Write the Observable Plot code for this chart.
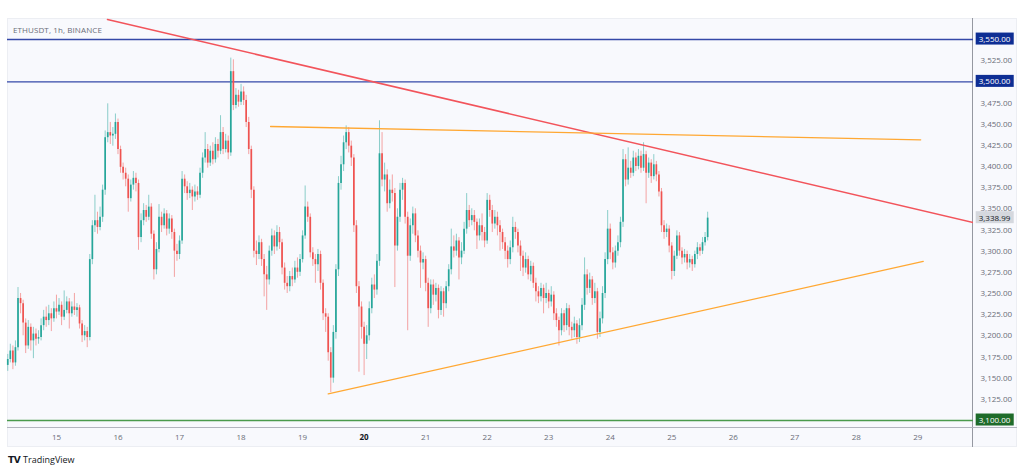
<!DOCTYPE html>
<html><head><meta charset="utf-8">
<script src="https://cdn.jsdelivr.net/npm/d3@7"></script>
<script src="https://cdn.jsdelivr.net/npm/@observablehq/plot@0.6"></script>
<style>
html,body{margin:0;padding:0;background:#fff;width:1024px;height:472px;overflow:hidden;font-family:"Open Sans",sans-serif;}
#wrap{position:relative;width:1024px;height:472px;}
#panel{position:absolute;left:7px;top:18px;width:1010px;height:429px;background:#f8f9fd;box-sizing:border-box;border:1px solid #eceef3;}
#vsep{position:absolute;left:972px;top:18px;width:1px;height:429px;background:#9598a1;}
#hsep{position:absolute;left:7px;top:427px;width:1010px;height:1px;background:#b2b5be;}
#title{position:absolute;left:13px;top:24px;font-size:8px;line-height:12px;color:#6a6d78;letter-spacing:0.1px;}
#logo{position:absolute;left:8px;top:454px;font-size:9px;line-height:12px;color:#131722;}
#logo b{font-family:"DejaVu Sans",sans-serif;font-weight:900;letter-spacing:-0.5px;margin-right:3px;}
#chart{position:absolute;left:0;top:0;}
</style></head>
<body>
<div id="wrap">
  <div id="panel"></div>
  <div id="vsep"></div>
  <div id="hsep"></div>
  <div id="chart"></div>
  <div id="title">ETHUSDT, 1h, BINANCE</div>
  <div id="logo"><b>TV</b>TradingView</div>
</div>
<script>
// ---- data (ETHUSDT, 1h candles, first candle 14 Jan 05:00 UTC) ----
const firstCandleUTC = Date.UTC(2025, 0, 14, 5);
const firstOpen = 3165;
const closes = [
3172,3182,3168,3186,3244,3238,3215,3188,3210,3194,
3202,3196,3198,3212,3222,3218,3226,3220,3232,
3228,3236,3222,3230,3240,3226,3234,3230,3233,3214,
3200,3205,3198,3290,3330,3336,3328,3340,3372,3434,
3440,3436,3438,3452,3420,3399,3392,3385,3362,3378,
3386,3380,3316,3336,3348,3340,3352,3320,3278,3302,
3340,3330,3344,3326,3338,3322,3300,3296,3312,3385,
3376,3368,3372,3364,3370,3366,3392,3410,3420,3404,
3418,3408,3426,3418,3440,3420,3430,3416,3512,3472,
3484,3476,3488,3478,3452,3420,3372,3300,3296,3310,
3290,3272,3266,3300,3318,3305,3322,3310,3280,3262,
3258,3270,3266,3280,3275,3290,3318,3352,3340,3298,
3290,3284,3296,3262,3226,3222,3180,3150,3204,3278,
3380,3402,3428,3440,3424,3410,3330,3258,3234,3210,
3190,3200,3232,3260,3254,3288,3415,3384,3390,3356,
3372,3368,3306,3340,3372,3380,3340,3294,3330,3344,
3318,3300,3286,3290,3262,3232,3260,3248,3256,3230,
3252,3238,3258,3278,3305,3300,3312,3292,3300,3326,
3348,3336,3342,3334,3318,3330,3322,3312,3360,3348,
3332,3340,3330,3322,3310,3300,3290,3304,3328,3322,
3306,3294,3280,3290,3272,3282,3262,3252,3246,3256,
3244,3250,3240,3248,3226,3218,3206,3226,3212,3232,
3210,3206,3214,3198,3212,3236,3272,3256,3266,3244,
3252,3204,3220,3250,3290,3326,3298,3286,3300,3310,
3334,3408,3384,3398,3392,3410,3400,3412,3398,3414,
3392,3404,3388,3402,3390,3370,3330,3322,3326,3306,
3276,3294,3318,3300,3292,3296,3286,3290,3284,3296,
3304,3300,3310,3316,3338.99];
const highs = [
3178,3190,3188,3194,3257,3250,3242,3220,3218,3214,
3210,3208,3206,3220,3230,3234,3236,3232,3240,
3248,3244,3240,3253,3246,3244,3240,3250,3238,3236,
3218,3212,3210,3296,3336,3366,3346,3352,3378,3442,
3474,3452,3446,3462,3456,3424,3404,3398,3390,3384,
3394,3392,3384,3344,3356,3354,3366,3356,3324,3310,
3355,3346,3350,3348,3344,3342,3326,3308,3318,3394,
3390,3382,3380,3376,3378,3376,3398,3416,3440,3426,
3424,3428,3434,3432,3460,3446,3438,3436,3528,3526,
3492,3490,3497,3494,3484,3458,3424,3376,3312,3318,
3314,3296,3282,3306,3326,3324,3330,3328,3314,3286,
3270,3276,3280,3288,3292,3296,3324,3377,3358,3344,
3304,3296,3302,3300,3266,3232,3226,3186,3212,3284,
3388,3412,3436,3448,3446,3430,3414,3336,3264,3240,
3216,3212,3240,3268,3272,3296,3454,3440,3404,3396,
3384,3390,3374,3350,3380,3386,3384,3346,3338,3352,
3350,3324,3306,3298,3294,3268,3266,3266,3262,3260,
3258,3256,3264,3284,3326,3318,3320,3316,3310,3334,
3368,3354,3350,3348,3338,3338,3344,3328,3368,3366,
3354,3348,3346,3336,3326,3316,3306,3312,3340,3334,
3326,3312,3300,3298,3294,3288,3286,3268,3258,3262,
3260,3262,3254,3258,3252,3232,3222,3232,3230,3238,
3236,3216,3222,3218,3220,3244,3292,3278,3274,3270,
3262,3256,3228,3258,3298,3348,3332,3304,3306,3318,
3340,3420,3414,3422,3406,3418,3416,3420,3418,3428,
3418,3410,3408,3414,3406,3394,3374,3336,3332,3330,
3310,3300,3324,3322,3304,3302,3300,3296,3294,3300,
3310,3308,3316,3322,3346];
const lows = [
3158,3168,3160,3164,3182,3226,3200,3179,3184,3182,
3173,3188,3190,3194,3206,3210,3212,3205,3216,
3220,3224,3212,3218,3226,3208,3222,3224,3222,3208,
3192,3194,3186,3194,3284,3322,3320,3324,3334,3366,
3428,3426,3424,3432,3414,3392,3384,3376,3346,3358,
3372,3370,3301,3310,3330,3334,3336,3314,3266,3272,
3298,3322,3326,3318,3320,3314,3269,3288,3290,3308,
3368,3360,3362,3348,3358,3360,3362,3386,3404,3398,
3400,3402,3404,3410,3414,3414,3416,3408,3412,3466,
3468,3470,3472,3472,3446,3414,3362,3292,3283,3290,
3282,3246,3230,3260,3294,3296,3300,3302,3272,3254,
3250,3252,3258,3262,3268,3270,3286,3314,3334,3292,
3282,3262,3276,3254,3218,3204,3170,3133,3144,3196,
3270,3372,3394,3420,3416,3400,3322,3250,3157,3196,
3153,3172,3194,3226,3244,3248,3282,3376,3370,3346,
3350,3358,3257,3300,3334,3360,3332,3206,3288,3320,
3310,3292,3256,3278,3252,3210,3226,3236,3240,3220,
3224,3222,3232,3252,3272,3292,3294,3266,3284,3296,
3320,3328,3330,3324,3302,3312,3312,3304,3308,3340,
3322,3326,3318,3300,3302,3290,3280,3284,3298,3314,
3298,3276,3270,3274,3266,3264,3256,3240,3238,3240,
3226,3238,3232,3234,3218,3210,3188,3200,3204,3206,
3200,3196,3198,3190,3192,3206,3230,3248,3250,3236,
3238,3196,3198,3214,3244,3284,3290,3278,3280,3294,
3304,3328,3376,3378,3386,3388,3394,3396,3392,3394,
3356,3386,3380,3384,3382,3364,3322,3314,3316,3298,
3266,3270,3290,3294,3284,3286,3278,3280,3276,3280,
3290,3294,3296,3306,3312];

// day labels on the time axis (January 2025)
const dayLabels = [15,16,17,18,19,20,21,22,23,24,25,26,27,28,29];
const boldDay = 20;
// price axis ticks
const priceTicks = [3125,3150,3175,3200,3225,3250,3275,3300,3325,3350,3375,3400,3425,3450,3475,3525];
// horizontal levels
const blueLevels = [3550, 3500];
const greenLevels = [3100];
const lastPrice = 3338.99;
// trend lines: [hours after 15 Jan 00:00, price]
const redLine = [[19.9, 3573.6], [357.7, 3333.8]];
const upperOrange = [[83.5, 3447.2], [337.1, 3431.5]];
const lowerOrange = [[106.0, 3131.5], [338.1, 3287.8]];
// visible window
const xHours = [-19.1, 357.7];
const yRange = [3090.5, 3574.8];

// ---- build ----
const H = 3600e3;
const day0 = Date.UTC(2025, 0, 15);
const toDate = h => new Date(day0 + h * H);
const candles = closes.map((c, i) => ({
  date: new Date(firstCandleUTC + i * H),
  open: i === 0 ? firstOpen : closes[i - 1],
  close: c, high: highs[i], low: lows[i]
}));
const up = candles.filter(d => d.close >= d.open);
const down = candles.filter(d => d.close < d.open);
const pts = arr => arr.map(([h, p]) => ({date: toDate(h), price: p}));
const dayDates = dayLabels.map(d => new Date(Date.UTC(2025, 0, d)));
const fmt = d3.format(",.2f");

const UP = "#26a69a", DOWN = "#ef5350";
const axisFont = {fontSize: 8, color: "#6a6d78"};

const boxes = [
  {v: blueLevels[0], bg: "#0e2e94", fg: "#ffffff"},
  {v: blueLevels[1], bg: "#0e2e94", fg: "#ffffff"},
  {v: greenLevels[0], bg: "#1e6b2a", fg: "#ffffff"},
  {v: lastPrice, bg: "#d5d8de", fg: "#131722"}
];

const chart = Plot.plot({
  width: 1024, height: 472,
  marginLeft: 7, marginRight: 51, marginTop: 18, marginBottom: 44,
  style: {background: "transparent", fontFamily: "'Open Sans', sans-serif", overflow: "visible"},
  x: {type: "utc", domain: xHours.map(toDate)},
  y: {domain: yRange},
  marks: [
    Plot.ruleY(blueLevels, {y: d => d, stroke: "#3448a8", strokeWidth: 1.3}),
    Plot.ruleY(greenLevels, {y: d => d, stroke: "#4a9a4c", strokeWidth: 1.6}),
    Plot.ruleX(up, {x: "date", y1: "low", y2: "high", stroke: UP, strokeWidth: 0.8, strokeOpacity: 0.65}),
    Plot.ruleX(down, {x: "date", y1: "low", y2: "high", stroke: DOWN, strokeWidth: 0.8, strokeOpacity: 0.65}),
    Plot.ruleX(up, {x: "date", y1: "open", y2: "close", stroke: UP, strokeWidth: 1.7}),
    Plot.ruleX(down, {x: "date", y1: "open", y2: "close", stroke: DOWN, strokeWidth: 1.7}),
    Plot.line(pts(redLine), {x: "date", y: "price", stroke: "#f2545b", strokeWidth: 1.5, clip: true}),
    Plot.line(pts(upperOrange), {x: "date", y: "price", stroke: "#ffa833", strokeWidth: 1.3, clip: true}),
    Plot.line(pts(lowerOrange), {x: "date", y: "price", stroke: "#ffa833", strokeWidth: 1.3, clip: true}),
    Plot.axisY(priceTicks, {anchor: "right", tickSize: 0, tickPadding: 7, tickFormat: fmt, label: null, ...axisFont}),
    Plot.axisX(dayDates.filter(d => d.getUTCDate() !== boldDay), {anchor: "bottom", tickSize: 0, tickPadding: 6, tickFormat: d => String(d.getUTCDate()), label: null, ...axisFont}),
    Plot.axisX(dayDates.filter(d => d.getUTCDate() === boldDay), {anchor: "bottom", tickSize: 0, tickPadding: 6, tickFormat: d => String(d.getUTCDate()), label: null, fontSize: 8, color: "#131722", fontWeight: "bold"}),
    ...boxes.map((b, i) => Plot.text([b.v], {y: d => d, frameAnchor: "right", dx: 21, text: d => fmt(d), fill: b.fg, fontSize: 8, textAnchor: "middle", ariaDescription: "box-" + i}))
  ]
});
document.getElementById("chart").appendChild(chart);

// background boxes behind the highlighted price labels
boxes.forEach((b, i) => {
  let g = chart.querySelector(`[aria-description="box-${i}"]`);
  if (!g) {
    // fallback: find by text content
    const all = Array.from(chart.querySelectorAll("text")).filter(t => t.textContent === fmt(b.v) && t.closest("g[aria-label='text']"));
    if (!all.length) return;
    g = all[all.length - 1].parentNode;
  }
  g.querySelectorAll("text").forEach(t => {
    const bb = t.getBBox();
    const r = document.createElementNS("http://www.w3.org/2000/svg", "rect");
    r.setAttribute("x", bb.x - 3);
    r.setAttribute("y", bb.y - 0.5);
    r.setAttribute("width", bb.width + 6);
    r.setAttribute("height", bb.height + 1);
    r.setAttribute("fill", b.bg);
    if (t.getAttribute("transform")) r.setAttribute("transform", t.getAttribute("transform"));
    t.parentNode.insertBefore(r, t);
  });
});
</script>
</body></html>
